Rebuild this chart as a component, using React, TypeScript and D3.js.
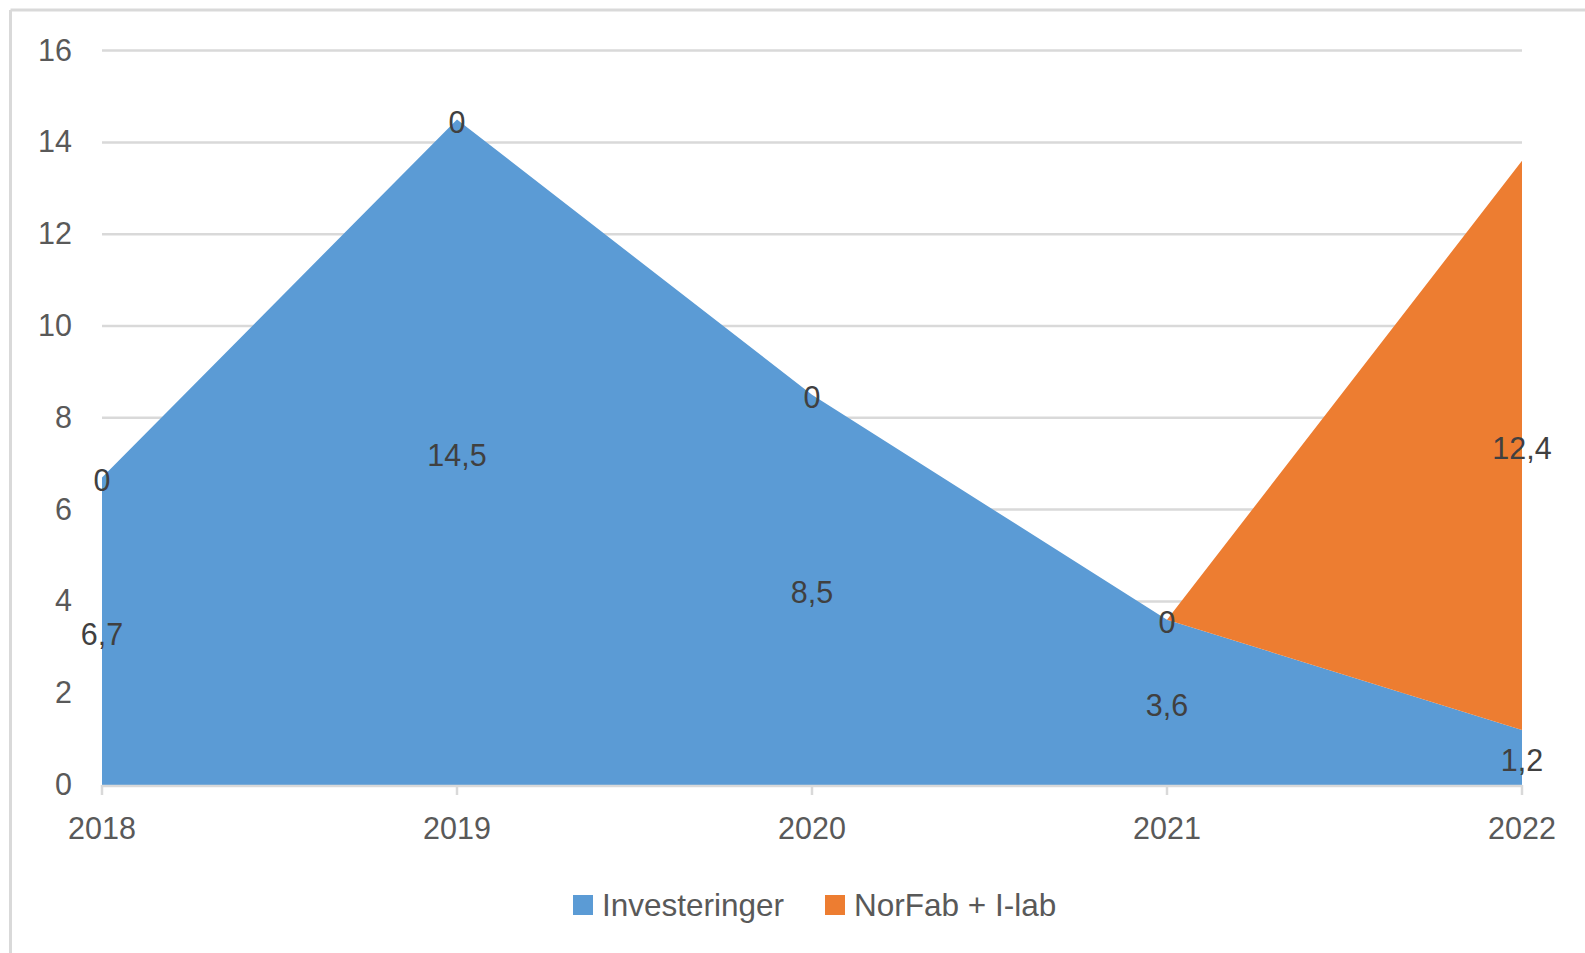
import React from "react";
import * as d3 from "d3";

const years = ["2018", "2019", "2020", "2021", "2022"];
const investeringer = [6.7, 14.5, 8.5, 3.6, 1.2];
const norfab = [0, 0, 0, 0, 12.4];
const seriesNames = ["Investeringer", "NorFab + I-lab"];
const seriesColors = ["#5b9bd5", "#ed7d31"];
const yTicks = [0, 2, 4, 6, 8, 10, 12, 14, 16];

const W = 1585;
const H = 953;
const FONT = "'Liberation Sans', Arial, sans-serif";

export default function App() {
  const x = d3.scalePoint<string>().domain(years).range([102, 1522]);
  const y = d3.scaleLinear().domain([0, 16]).range([785, 50.6]);

  const rows = years.map((yr, i) => ({ year: yr, s0: investeringer[i], s1: norfab[i] }));
  const stack = d3.stack<any>().keys(["s0", "s1"]);
  const stacked = stack(rows);

  const area = d3
    .area<any>()
    .x((d: any) => x(d.data.year) as number)
    .y0((d: any) => y(d[0]))
    .y1((d: any) => y(d[1]));

  const fmt = (v: number) => String(v).replace(".", ",");

  return (
    <svg
      width={W}
      height={H}
      style={{ position: "absolute", left: 0, top: 0, background: "#fff" }}
      fontFamily={FONT}
    >
      <rect x={0} y={0} width={W} height={H} fill="#fff" />
      {/* frame */}
      <line x1={10.5} x2={W} y1={10} y2={10} stroke="#d9d9d9" strokeWidth={3} />
      <line x1={10.5} x2={10.5} y1={10} y2={H} stroke="#d9d9d9" strokeWidth={3} />

      {/* gridlines */}
      {yTicks.map((t) => (
        <line
          key={"g" + t}
          x1={102}
          x2={1522}
          y1={y(t)}
          y2={y(t)}
          stroke="#d9d9d9"
          strokeWidth={2.5}
        />
      ))}

      {/* areas */}
      {stacked.map((s, i) => (
        <path key={"a" + i} d={area(s as any) || ""} fill={seriesColors[i]} />
      ))}

      {/* axis line and ticks */}
      <line x1={102} x2={1522} y1={y(0) + 1} y2={y(0) + 1} stroke="#d9d9d9" strokeWidth={2.5} />
      {years.map((yr) => (
        <line
          key={"t" + yr}
          x1={x(yr) as number}
          x2={x(yr) as number}
          y1={y(0)}
          y2={y(0) + 10}
          stroke="#d9d9d9"
          strokeWidth={2.5}
        />
      ))}

      {/* y tick labels */}
      {yTicks.map((t) => (
        <text
          key={"yl" + t}
          x={72}
          y={y(t)}
          dy="0.33em"
          textAnchor="end"
          fontSize={30.5}
          fill="#595959"
        >
          {t}
        </text>
      ))}

      {/* x tick labels */}
      {years.map((yr) => (
        <text
          key={"xl" + yr}
          x={x(yr) as number}
          y={839}
          textAnchor="middle"
          fontSize={30.5}
          fill="#595959"
        >
          {yr}
        </text>
      ))}

      {/* data labels */}
      {stacked.map((s, i) =>
        s.map((d: any, j: number) => {
          const v = i === 0 ? investeringer[j] : norfab[j];
          return (
            <text
              key={"dl" + i + "-" + j}
              x={x(years[j]) as number}
              y={y((d[0] + d[1]) / 2)}
              dy="0.44em"
              textAnchor="middle"
              fontSize={30.5}
              fill="#404040"
            >
              {fmt(v)}
            </text>
          );
        })
      )}

      {/* legend */}
      {seriesNames.map((n, i) => {
        const lx = i === 0 ? 573 : 825;
        return (
          <g key={"lg" + i}>
            <rect x={lx} y={895} width={20} height={20} fill={seriesColors[i]} />
            <text x={lx + 29} y={905} dy="0.36em" fontSize={31.5} fill="#595959">
              {n}
            </text>
          </g>
        );
      })}
    </svg>
  );
}
